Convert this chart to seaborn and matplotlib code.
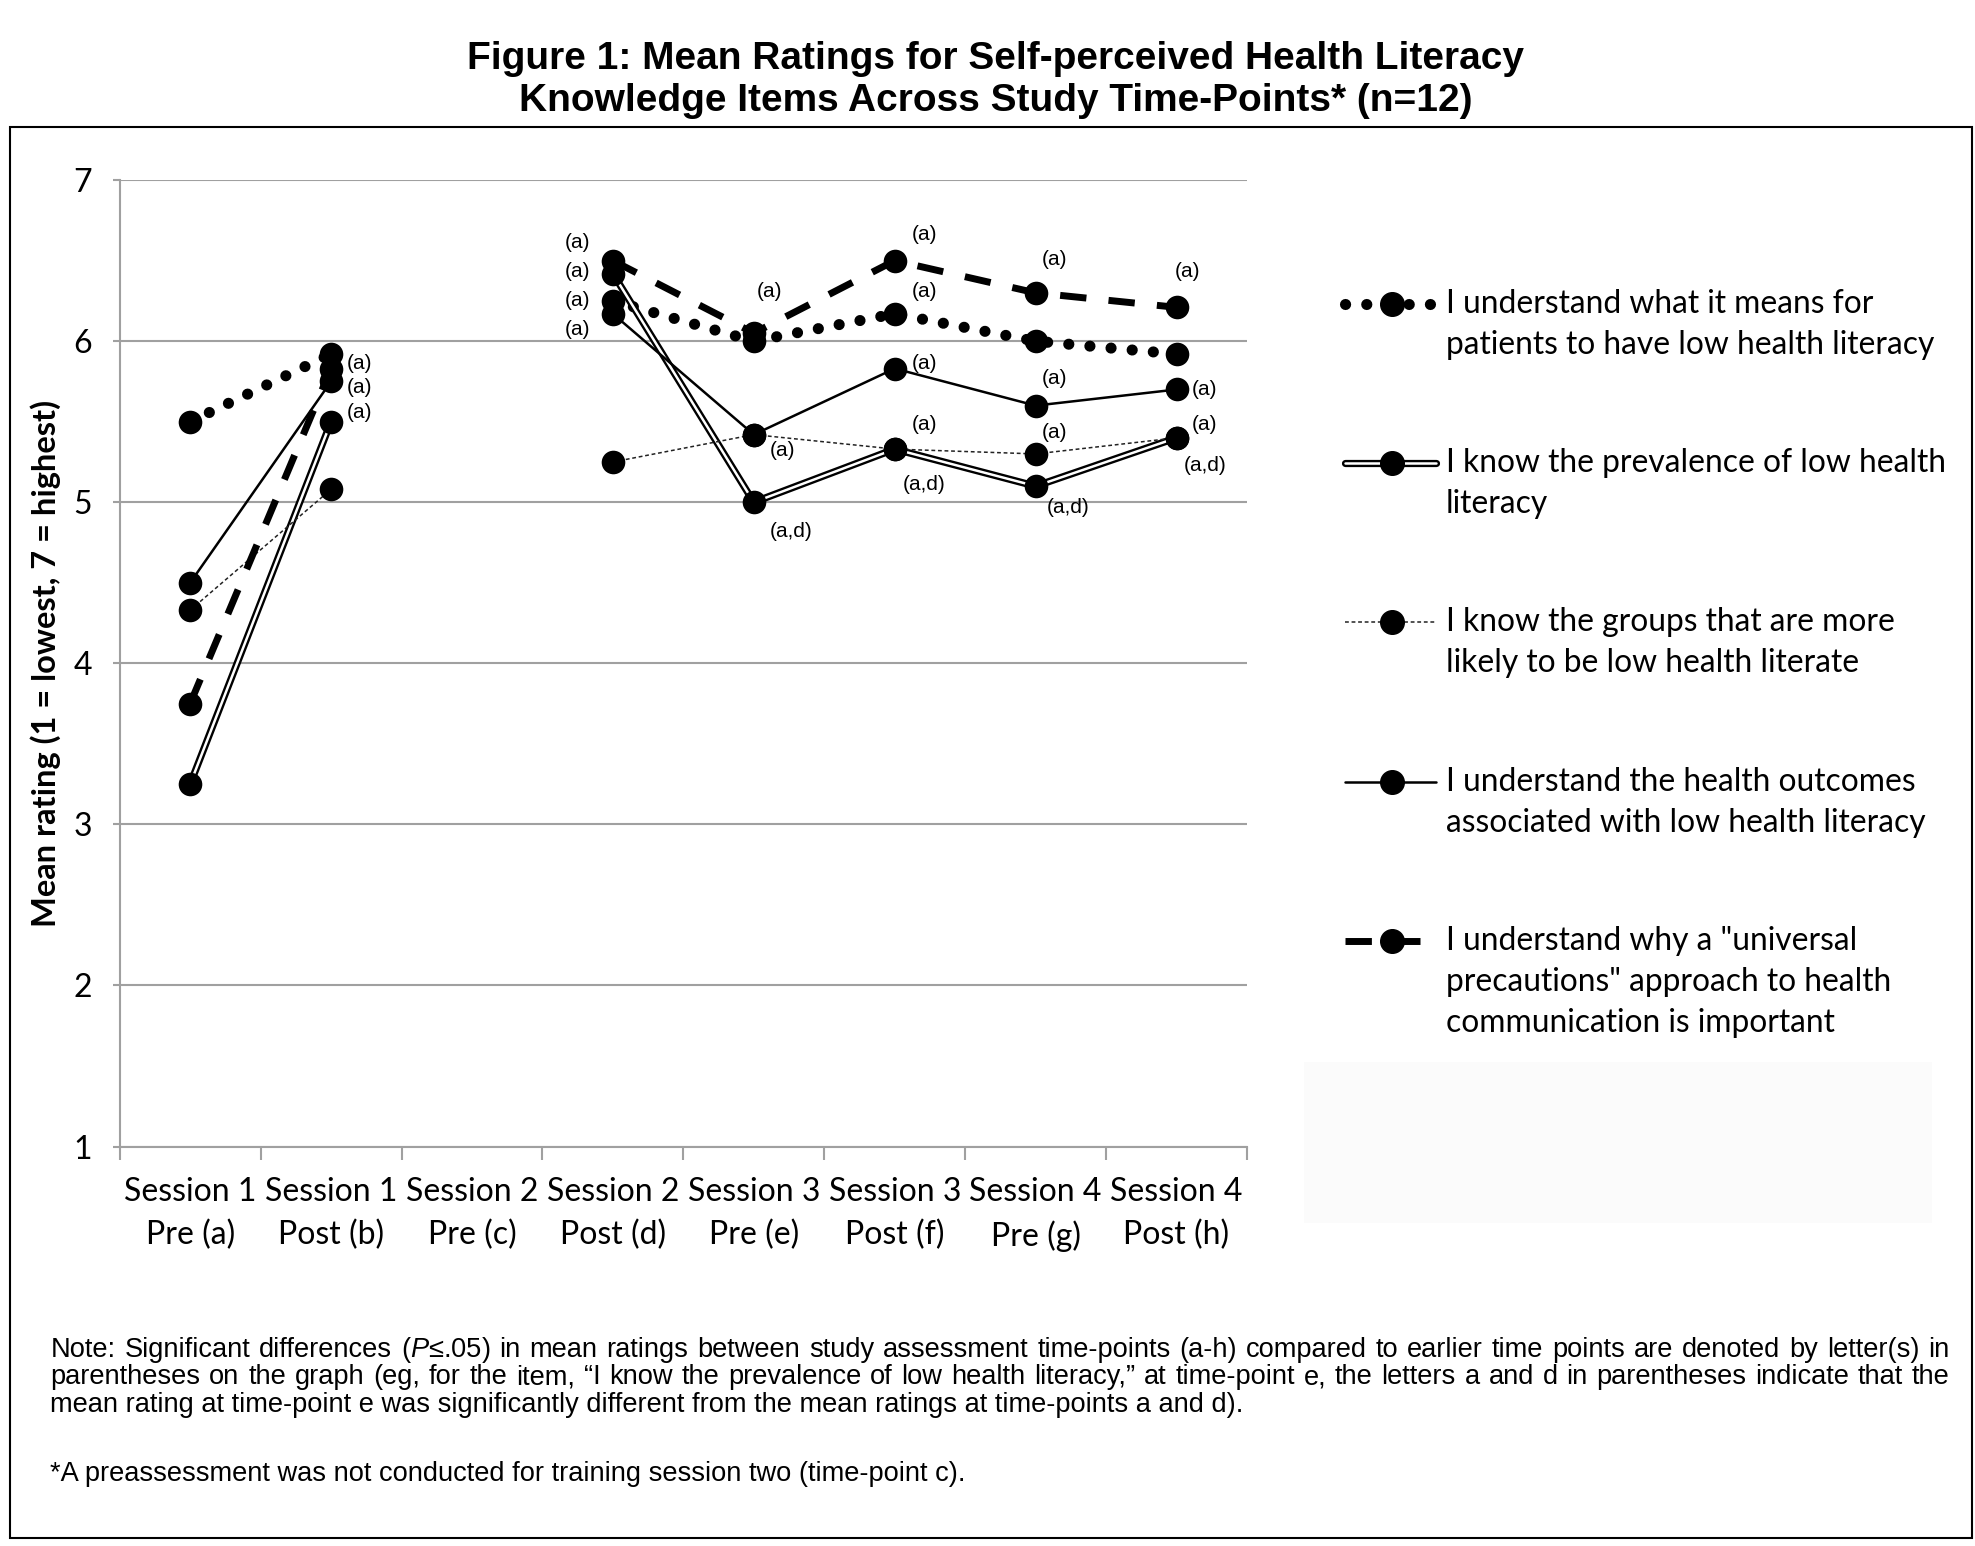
import numpy as np
import pandas as pd
import seaborn as sns
import matplotlib.pyplot as plt
from matplotlib.lines import Line2D
from matplotlib.patches import Rectangle

# 1. Data
categories = ["Session 1\nPre (a)", "Session 1\nPost (b)", "Session 2\nPre (c)", "Session 2\nPost (d)",
              "Session 3\nPre (e)", "Session 3\nPost (f)", "Session 4\nPre (g)", "Session 4\nPost (h)"]
nan = np.nan
understand_means = [5.50, 5.92, nan, 6.25, 6.00, 6.17, 6.00, 5.92]
know_prevalence = [3.25, 5.50, nan, 6.42, 5.00, 5.33, 5.10, 5.40]
know_groups = [4.33, 5.08, nan, 5.25, 5.42, 5.33, 5.30, 5.40]
understand_outcomes = [4.50, 5.75, nan, 6.17, 5.42, 5.83, 5.60, 5.70]
understand_universal = [3.75, 5.83, nan, 6.50, 6.05, 6.50, 6.30, 6.21]

legend_labels = [
    "I understand what it means for\npatients to have low health literacy",
    "I know the prevalence of low health\nliteracy",
    "I know the groups that are more\nlikely to be low health literate",
    "I understand the health outcomes\nassociated with low health literacy",
    "I understand why a \"universal\nprecautions\" approach to health\ncommunication is important",
]

# significance letters: (x position, y position, text)
sig_labels = [
    (1.11, 5.86, "(a)"), (1.11, 5.71, "(a)"), (1.11, 5.56, "(a)"),
    (2.66, 6.61, "(a)"), (2.66, 6.43, "(a)"), (2.66, 6.25, "(a)"), (2.66, 6.07, "(a)"),
    (4.02, 6.31, "(a)"), (4.11, 5.32, "(a)"), (4.11, 4.82, "(a,d)"),
    (5.12, 6.66, "(a)"), (5.12, 6.31, "(a)"), (5.12, 5.86, "(a)"), (5.12, 5.48, "(a)"), (5.06, 5.11, "(a,d)"),
    (6.04, 6.51, "(a)"), (6.04, 5.77, "(a)"), (6.04, 5.43, "(a)"), (6.08, 4.97, "(a,d)"),
    (6.99, 6.43, "(a)"), (7.11, 5.70, "(a)"), (7.11, 5.48, "(a)"), (7.05, 5.23, "(a,d)"),
]

note_lines = [
    "Note: Significant differences ($\\mathit{P}$≤.05) in mean ratings between study assessment time-points (a-h) compared to earlier time points are denoted by letter(s) in",
    "parentheses on the graph (eg, for the item, \u201cI know the prevalence of low health literacy,\u201d at time-point e, the letters a and d in parentheses indicate that the",
    "mean rating at time-point e was significantly different from the mean ratings at time-points a and d).",
]
footnote = "*A preassessment was not conducted for training session two (time-point c)."


def long_form(values):
    df = pd.DataFrame({"pos": np.arange(len(values)), "rating": values}).dropna()
    df["segment"] = (df["pos"] > 2).astype(int)  # no line across the missing time-point c
    return df


# 2. Styling
sns.set_style("white")
arial = ["Liberation Sans"]
plt.rcParams["font.family"] = ["Lato", "DejaVu Sans"]
plt.rcParams["mathtext.fontset"] = "custom"
plt.rcParams["mathtext.it"] = "Liberation Sans:italic"
plt.rcParams["mathtext.rm"] = "Liberation Sans"
for key in ["text.color", "axes.labelcolor", "xtick.color", "ytick.color"]:
    plt.rcParams[key] = "black"

fig = plt.figure(figsize=(19.75, 15.46), dpi=100)
ax = fig.add_axes([0.0606, 0.2584, 0.5708, 0.6251])

grid_c = "#a0a0a0"
ms = 17

# 3. Series
styles = [
    (understand_means, dict(lw=8, linestyle=(0, (0.01, 1.9)), dash_capstyle="round")),
    (know_prevalence, dict(lw=5.2)),
    (know_groups, dict(lw=1.1, linestyle=(0, (2.5, 1.8)), color="#222222")),
    (understand_outcomes, dict(lw=1.8)),
    (understand_universal, dict(lw=5, linestyle=(0, (3.8, 3.2)))),
]
for i, (vals, kw) in enumerate(styles):
    df = long_form(vals)
    kw = dict(kw)
    color = kw.pop("color", "black")
    sns.lineplot(data=df, x="pos", y="rating", units="segment", estimator=None,
                 color=color, ax=ax, legend=False, **kw)
    if i == 1:  # double line: white core
        sns.lineplot(data=df, x="pos", y="rating", units="segment", estimator=None,
                     color="white", lw=1.8, ax=ax, legend=False)
    sns.scatterplot(data=df, x="pos", y="rating", color="black", s=ms ** 2,
                    edgecolor="black", linewidth=0, ax=ax, legend=False, zorder=3)

for x, y, t in sig_labels:
    ax.text(x, y, t, ha="left", va="center", fontsize=15, family=arial, zorder=4)

# 4. Axes
ax.set_xlim(-0.5, 7.5)
ax.set_ylim(1, 7)
ax.set_yticks(range(1, 8))
ax.set_xticks(np.arange(-0.5, 8, 1))
ax.set_xticklabels([])
ax.set_xticks(range(8), labels=categories, minor=True)
ax.tick_params(axis="x", which="major", direction="out", length=9, width=1.5, color=grid_c, bottom=True)
ax.tick_params(axis="x", which="minor", length=0, pad=22, labelsize=23)
ax.tick_params(axis="y", direction="out", length=5, width=1.5, color=grid_c, left=True, pad=15, labelsize=23)
for lab in ax.get_xticklabels(minor=True):
    lab.set_linespacing(1.52)
ax.grid(axis="y", color=grid_c, lw=1.5)
ax.set_axisbelow(True)
for s in ["top", "right"]:
    ax.spines[s].set_visible(False)
for s in ["left", "bottom"]:
    ax.spines[s].set_color(grid_c)
    ax.spines[s].set_linewidth(1.5)
ax.set_xlabel("")
ax.set_ylabel("")
fig.text(0.0229, 0.571, "Mean rating (1 = lowest, 7 = highest)", rotation=90, ha="center", va="center",
         fontsize=23.5, fontweight="bold")

# 5. Legend drawn by hand so the sample sits on the first text line
fig.add_artist(Rectangle((0.660, 0.209), 0.318, 0.104, transform=fig.transFigure,
                         facecolor="#fbfbfb", edgecolor="none", zorder=0))
x0, x1, xm, xt = 0.681, 0.727, 0.705, 0.732
for i, (label, (vals, kw)) in enumerate(zip(legend_labels, styles)):
    y = 1 - (241 + 126.5 * i) / 1227
    kw = dict(kw)
    color = kw.pop("color", "black")
    fig.add_artist(Line2D([x0, x1], [y, y], color=color, transform=fig.transFigure, **kw))
    if i == 1:
        fig.add_artist(Line2D([x0, x1], [y, y], color="white", lw=1.8, transform=fig.transFigure))
    fig.add_artist(Line2D([xm], [y], marker="o", ms=ms, color="black", lw=0, transform=fig.transFigure))
    for k, line in enumerate(label.split("\n")):
        fig.text(xt, y - k * 32.5 / 1227, line, ha="left", va="center", fontsize=22.9)

# 6. Title, note and frame
fig.text(0.504, 0.9617, "Figure 1: Mean Ratings for Self-perceived Health Literacy",
         ha="center", va="center", fontsize=28, fontweight="bold", family=arial)
fig.text(0.504, 0.9348, "Knowledge Items Across Study Time-Points* (n=12)",
         ha="center", va="center", fontsize=28, fontweight="bold", family=arial)
fig.add_artist(Rectangle((0.0051, 0.0049), 0.9936, 0.9128, transform=fig.transFigure,
                         fill=False, edgecolor="black", lw=1.5))

nsize = 19.6
renderer = fig.canvas.get_renderer()
nx0, nx1 = 0.0255, 0.9872
note_y = [0.1271, 0.1091, 0.0913]
for k, line in enumerate(note_lines):
    if k < 2:
        words = line.split(" ")
        texts = [fig.text(0, note_y[k], w, ha="left", va="center", fontsize=nsize, family=arial) for w in words]
        widths = [t.get_window_extent(renderer).width / fig.bbox.width for t in texts]
        gap = (nx1 - nx0 - sum(widths)) / (len(words) - 1)
        xx = nx0
        for t, w in zip(texts, widths):
            t.set_x(xx)
            xx += w + gap
    else:
        fig.text(nx0, note_y[k], line, ha="left", va="center", fontsize=nsize, family=arial)
fig.text(nx0, 0.0464, footnote, ha="left", va="center", fontsize=nsize, family=arial)

plt.savefig("out.png", dpi=100)
print("Plot saved.")
